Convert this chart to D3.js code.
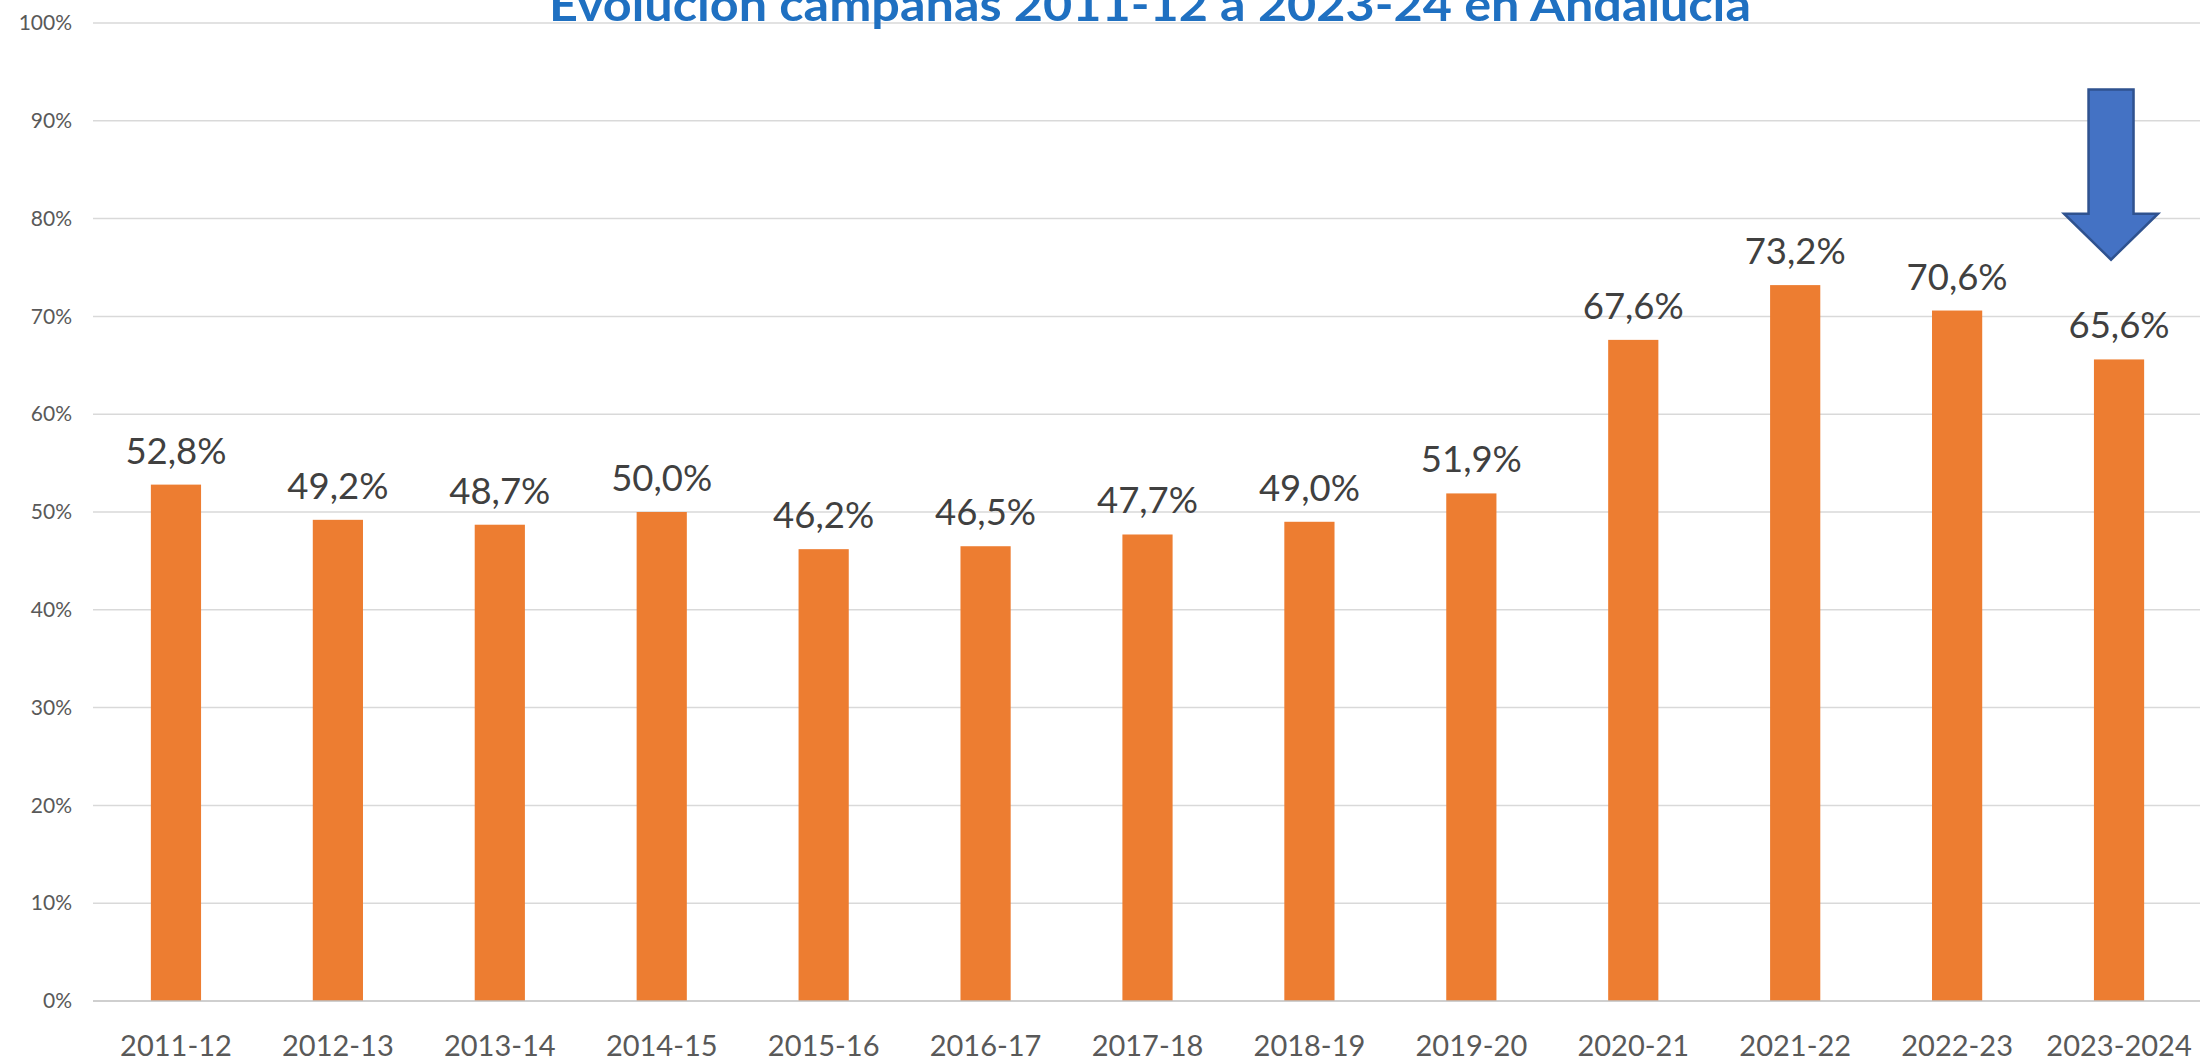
<!DOCTYPE html>
<html>
<head>
<meta charset="utf-8">
<script src="https://cdn.jsdelivr.net/npm/d3@7"></script>
<style>
  html, body { margin: 0; padding: 0; background: #ffffff; overflow: hidden; }
  svg { display: block; }
</style>
</head>
<body>
<svg id="chart" width="2209" height="1061"></svg>
<script>
const title = "Evolución campañas 2011-12 a 2023-24 en Andalucía";
const categories = ["2011-12","2012-13","2013-14","2014-15","2015-16","2016-17","2017-18","2018-19","2019-20","2020-21","2021-22","2022-23","2023-2024"];
const values = [0.528, 0.492, 0.487, 0.500, 0.462, 0.465, 0.477, 0.490, 0.519, 0.676, 0.732, 0.706, 0.656];
const yTicks = [0, 0.1, 0.2, 0.3, 0.4, 0.5, 0.6, 0.7, 0.8, 0.9, 1.0];

const svg = d3.select("#chart");
const plotLeft = 93, plotRight = 2200, plotTop = 23, plotBottom = 1001;

const x = d3.scaleBand().domain(categories).range([95, plotRight]).paddingInner(0.69).paddingOuter(0.345);
const y = d3.scaleLinear().domain([0, 1]).range([plotBottom, plotTop]);

const fmtY = d => Math.round(d * 100) + "%";
const fmtLbl = d => (d * 100).toFixed(1).replace(".", ",") + "%";

// gridlines
svg.append("g").selectAll("line").data(yTicks.filter(d => d > 0)).join("line")
  .attr("x1", plotLeft).attr("x2", plotRight)
  .attr("y1", d => y(d)).attr("y2", d => y(d))
  .attr("stroke", "#d9d9d9").attr("stroke-width", 1.5);

// y axis labels
const yAxis = d3.axisLeft(y).tickValues(yTicks).tickFormat(fmtY).tickSize(0).tickPadding(0);
const gy = svg.append("g").attr("transform", "translate(72,0)").call(yAxis);
gy.select(".domain").remove();
gy.selectAll("text").attr("font-family", "Lato, sans-serif").attr("font-size", 21).attr("fill", "#595959");

// bars
svg.append("g").selectAll("rect").data(values).join("rect")
  .attr("x", (d, i) => x(categories[i]))
  .attr("width", x.bandwidth())
  .attr("y", d => y(d))
  .attr("height", d => y(0) - y(d))
  .attr("fill", "#ed7d31");

// baseline axis
const xAxis = d3.axisBottom(x).tickSize(0).tickPadding(0);
const gx = svg.append("g").attr("transform", `translate(0,${plotBottom})`).call(xAxis);
gx.select(".domain").attr("d", `M${plotLeft},0H${plotRight}`).attr("stroke", "#bfbfbf").attr("stroke-width", 1.5);
gx.selectAll("text").attr("font-family", "Lato, sans-serif").attr("font-size", 29).attr("fill", "#595959")
  .attr("dy", null).attr("y", 55);

// data labels
svg.append("g").selectAll("text").data(values).join("text")
  .attr("x", (d, i) => x(categories[i]) + x.bandwidth() / 2)
  .attr("y", d => y(d) - 21)
  .attr("text-anchor", "middle")
  .attr("font-family", "Lato, sans-serif").attr("font-size", 36.5)
  .attr("fill", "#404040")
  .text(fmtLbl);

// title (partially cut at top, as in the reference)
svg.append("text")
  .attr("x", 1150).attr("y", 21)
  .attr("text-anchor", "middle")
  .attr("font-family", "Lato, sans-serif").attr("font-weight", "bold").attr("font-size", 46)
  .attr("fill", "#1f70c1")
  .attr("textLength", 1202).attr("lengthAdjust", "spacingAndGlyphs")
  .text(title);

// arrow annotation above last bar
const lastCat = categories[categories.length - 1];
const cx = x(lastCat) + x.bandwidth() / 2 - 8;
const shaftHalf = 22.5, headHalf = 47;
const yTop = y(0.932), yHead = y(0.805), yTip = y(0.758);
const arrow = d3.path();
arrow.moveTo(cx - shaftHalf, yTop);
arrow.lineTo(cx + shaftHalf, yTop);
arrow.lineTo(cx + shaftHalf, yHead);
arrow.lineTo(cx + headHalf, yHead);
arrow.lineTo(cx, yTip);
arrow.lineTo(cx - headHalf, yHead);
arrow.lineTo(cx - shaftHalf, yHead);
arrow.closePath();
svg.append("path").attr("d", arrow.toString())
  .attr("fill", "#4472c4").attr("stroke", "#2f528f").attr("stroke-width", 2.5).attr("stroke-linejoin", "miter");
</script>
</body>
</html>
